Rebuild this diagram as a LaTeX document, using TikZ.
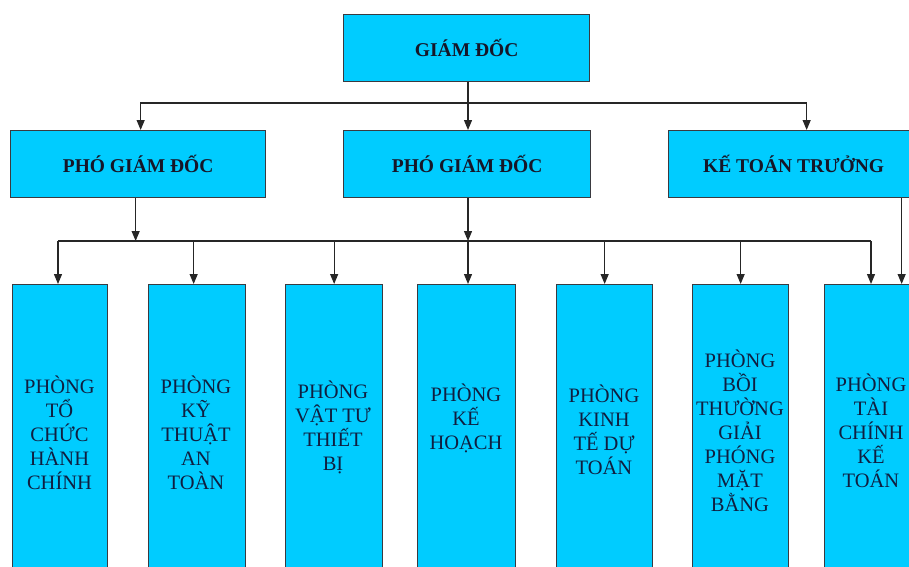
\documentclass[tikz,border=0pt]{standalone}
\usepackage{fontspec}
\setmainfont{Liberation Serif}
\usetikzlibrary{arrows.meta}
\definecolor{boxfill}{RGB}{0,204,255}
\definecolor{boxline}{RGB}{58,58,64}
\definecolor{toptext}{RGB}{22,22,40}
\definecolor{lowtext}{RGB}{16,30,64}
\begin{document}
\begin{tikzpicture}[x=1pt,y=-1pt,
  box/.style={draw=boxline,line width=1.3pt,fill=boxfill,inner sep=0pt,anchor=north west},
  toplbl/.style={font=\fontsize{19.5}{22}\selectfont\bfseries,text=toptext},
  lowlbl/.style={font=\fontsize{20.5}{24}\selectfont,text=lowtext,align=center,inner sep=0pt},
  conn/.style={draw=black!85,line width=1.2pt},
  arr/.style={conn,-{Triangle[length=10pt,width=8pt]}}]
\useasboundingbox (0,0) rectangle (909,566);
\clip (0,0) rectangle (909,566);
% top level
\node[box,minimum width=246pt,minimum height=67pt] (gd) at (343,14) {};
\node[toplbl] (gdt) at (gd.center) {GIÁM ĐỐC};
% second level
\node[box,minimum width=255pt,minimum height=67pt] (pgd1) at (10,130) {};
\node[toplbl] (pgd1t) at (pgd1.center) {PHÓ GIÁM ĐỐC};
\node[box,minimum width=247pt,minimum height=67pt] (pgd2) at (343,130) {};
\node[toplbl] (pgd2t) at (pgd2.center) {PHÓ GIÁM ĐỐC};
\node[box,minimum width=250pt,minimum height=67pt] (ktt) at (668,130) {};
\node[toplbl] (kttt) at (ktt.center) {KẾ TOÁN TRƯỞNG};
% third level
\node[box,minimum width=95pt,minimum height=300pt] (b1) at (12,284) {};
\node[box,minimum width=97pt,minimum height=300pt] (b2) at (148,284) {};
\node[box,minimum width=97pt,minimum height=300pt] (b3) at (285,284) {};
\node[box,minimum width=98pt,minimum height=300pt] (b4) at (417,284) {};
\node[box,minimum width=96pt,minimum height=300pt] (b5) at (556,284) {};
\node[box,minimum width=96pt,minimum height=300pt] (b6) at (692,284) {};
\node[box,minimum width=94pt,minimum height=300pt] (b7) at (824,284) {};
\node[lowlbl] (t1) at (59.5,433) {PHÒNG\\TỔ\\CHỨC\\HÀNH\\CHÍNH};
\node[lowlbl] (t2) at (196,433) {PHÒNG\\KỸ\\THUẬT\\AN\\TOÀN};
\node[lowlbl] (t3) at (333,427) {PHÒNG\\VẬT TƯ\\THIẾT\\BỊ};
\node[lowlbl] (t4) at (466,418) {PHÒNG\\KẾ\\HOẠCH};
\node[lowlbl] (t5) at (604,430) {PHÒNG\\KINH\\TẾ DỰ\\TOÁN};
\node[lowlbl] (t6) at (740,431) {PHÒNG\\BỒI\\THƯỜNG\\GIẢI\\PHÓNG\\MẶT\\BẰNG};
\node[lowlbl] (t7) at (871,431) {PHÒNG\\TÀI\\CHÍNH\\KẾ\\TOÁN};
% connectors level 1 -> 2
\coordinate (bus1) at (468,103);
\draw[conn] (gd.south -| bus1) -- (bus1);
\draw[arr] (bus1) -| ([xshift=2.5pt]pgd1.north);
\draw[arr] (bus1) -- (bus1 |- pgd2.north);
\draw[arr] (bus1) -| ([xshift=13pt]ktt.north);
% connectors level 2 -> 3
\coordinate (busL) at (58,241);
\coordinate (busR) at (871,241);
\draw[conn] (busL) -- (busR);
\draw[arr] ([xshift=-2.5pt]pgd1.south) -- ([xshift=-2.5pt]pgd1.south |- busL);
\draw[arr] (pgd2.south -| bus1) -- (bus1 |- busL);
\draw[arr] (busL) -- (busL |- b1.north);
\draw[arr] ([xshift=-3.5pt]b2.north |- busL) -- ([xshift=-3.5pt]b2.north);
\draw[arr] (b3.north |- busL) -- (b3.north);
\draw[arr] (bus1 |- busL) -- (bus1 |- b4.north);
\draw[arr] (b5.north |- busL) -- (b5.north);
\draw[arr] (b6.north |- busL) -- (b6.north);
\draw[arr] (busR) -- (busR |- b7.north);
\draw[arr] ([xshift=108pt]ktt.south) -- ([xshift=30pt]b7.north);
\end{tikzpicture}
\end{document}
